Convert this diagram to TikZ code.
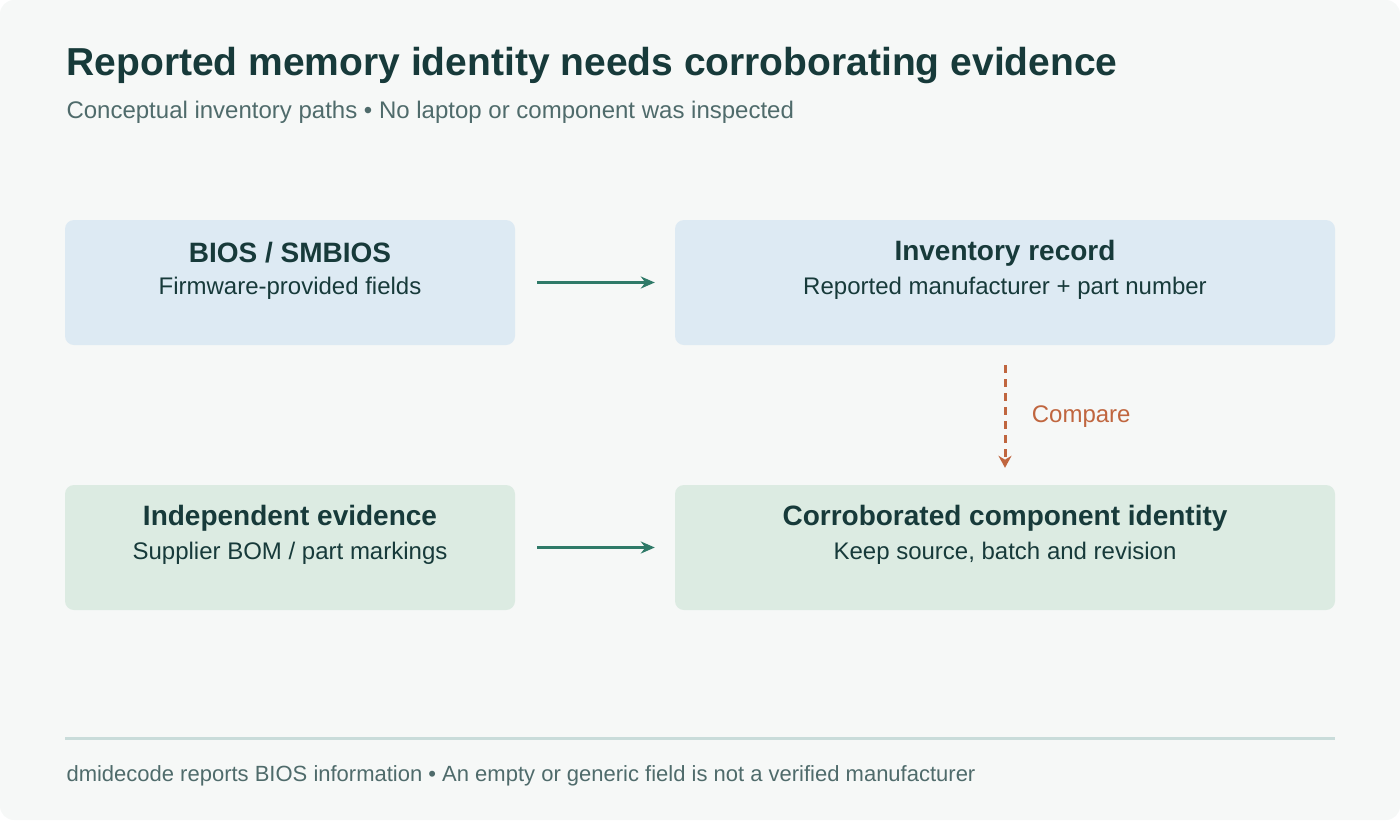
\documentclass[tikz,border=0pt]{standalone}
\usepackage{fontspec}
\setmainfont{Liberation Sans}
\usetikzlibrary{arrows.meta,positioning}
\definecolor{bgpage}{HTML}{F6F8F7}
\definecolor{inkdark}{HTML}{173A3A}
\definecolor{inkgray}{HTML}{4F6B6B}
\definecolor{boxblue}{HTML}{DDEAF3}
\definecolor{boxgreen}{HTML}{DCEBE2}
\definecolor{flowteal}{HTML}{2F7A68}
\definecolor{cmporange}{HTML}{C0663F}
\definecolor{rulegray}{HTML}{C9DCDA}
\tikzset{
  card/.style={rounded corners=9pt, minimum height=125pt, inner sep=0pt},
  cardhead/.style={text=inkdark, font=\fontsize{28}{32}\selectfont\bfseries},
  cardsub/.style={text=inkdark, font=\fontsize{24}{28}\selectfont},
  flow/.style={-{Stealth[length=14pt,width=12pt]}, line width=3pt, draw=flowteal},
}
\begin{document}
\begin{tikzpicture}[x=1pt,y=-1pt]
				\fill[bgpage, rounded corners=14pt] (0,0) rectangle (1400,820);
				\useasboundingbox (0,0) rectangle (1400,820);
				
				\node[anchor=west, text=inkdark, font=\fontsize{39}{44}\selectfont\bfseries] (title) at (63,65) {Reported memory identity needs corroborating evidence};
				\node[anchor=west, text=inkgray, font=\fontsize{24}{28}\selectfont] (subtitle) at (63,112) {Conceptual inventory paths • No laptop or component was inspected};
				
				\node[card, fill=boxblue, minimum width=450pt] (bios) at (290,282.5) {};
				\node[card, fill=boxblue, minimum width=660pt] (inventory) at (1005,282.5) {};
				\node[card, fill=boxgreen, minimum width=450pt] (independent) at (290,547.5) {};
				\node[card, fill=boxgreen, minimum width=660pt] (corroborated) at (1005,547.5) {};
				
				\node[cardhead] (biosT) at (290,253) {BIOS / SMBIOS};
				\node[cardsub] (biosS) at (290,288) {Firmware-provided fields};
				\node[cardhead] (inventoryT) at (1005,253) {Inventory record};
				\node[cardsub] (inventoryS) at (1005,288) {Reported manufacturer + part number};
				\node[cardhead] (independentT) at (290,518) {Independent evidence};
				\node[cardsub] (independentS) at (290,553) {Supplier BOM / part markings};
				\node[cardhead] (corroboratedT) at (1005,518) {Corroborated component identity};
				\node[cardsub] (corroboratedS) at (1005,553) {Keep source, batch and revision};
				
				\draw[flow] ([xshift=22pt]bios.east) -- ([xshift=-20pt]inventory.west);
				\draw[flow] ([xshift=22pt]independent.east) -- ([xshift=-20pt]corroborated.west);
				
				\draw[cmporange, line width=3pt, dash pattern=on 8pt off 6pt, -{Stealth[length=12pt,width=13pt]}] ([yshift=-20pt]inventory.south) -- ([yshift=17pt]corroborated.north) node[midway, right=22pt, text=cmporange, font=\fontsize{24}{28}\selectfont] (compare) {Compare};
				
				\draw[rulegray, line width=3pt] (65,738) coordinate (ruleL) -- (1335,738) coordinate (ruleR);
				\node[anchor=west, text=inkgray, font=\fontsize{22}{26}\selectfont] (footer) at (63,776) {dmidecode reports BIOS information • An empty or generic field is not a verified manufacturer};
\end{tikzpicture}
\end{document}
